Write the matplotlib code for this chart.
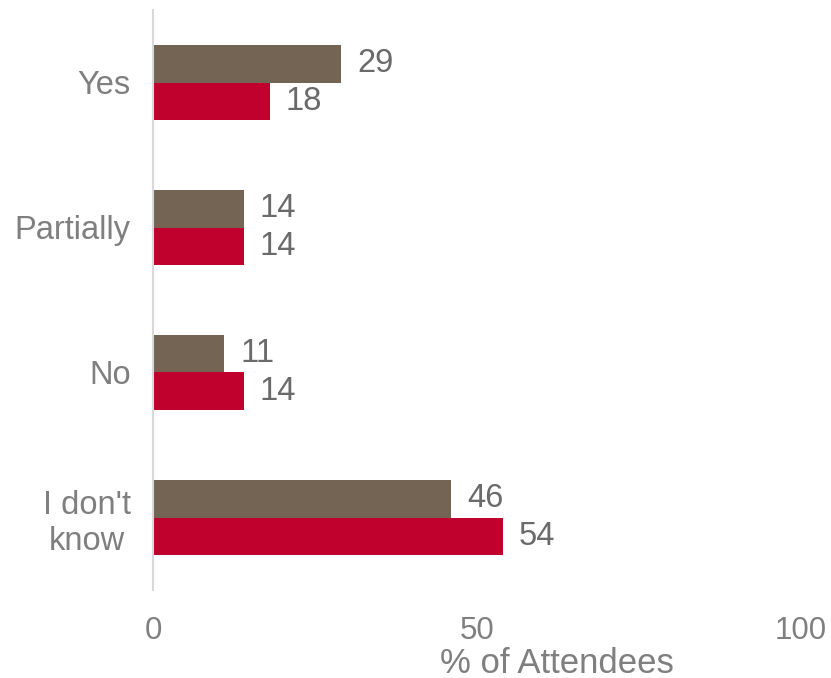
import matplotlib
matplotlib.use("Agg")
import matplotlib.pyplot as plt
import numpy as np

categories = ["Yes", "Partially", "No", "I don't\nknow"]
series_brown = [29, 14, 11, 46]
series_red = [18, 14, 14, 54]
x_ticks = [0, 50, 100]

plt.rcParams['font.family'] = ['Liberation Sans', 'DejaVu Sans']

fig = plt.figure(figsize=(8.31, 6.78), dpi=100)
ax = fig.add_axes([153/831, 1-590/678, 648/831, 580/678])

y = np.arange(len(categories))
h = 0.257
c_brown = "#736453"
c_red = "#C0002D"
b1 = ax.barh(y - h/2, series_brown, height=h, color=c_brown)
b2 = ax.barh(y + h/2, series_red, height=h, color=c_red)

for bars, vals in ((b1, series_brown), (b2, series_red)):
    for rect, v in zip(bars, vals):
        ax.annotate(f"{v}", xy=(rect.get_width(), rect.get_y() + rect.get_height()/2),
                    xytext=(16, 0), textcoords="offset pixels", ha="left", va="center",
                    fontsize=23.5, color="#6a6a6a")

ax.set_xlim(0, 100)
ax.set_ylim(3.5, -0.5)
ax.set_yticks(y)
ax.set_yticklabels(categories, multialignment="center")
ax.set_xticks(x_ticks)
ax.tick_params(axis="both", length=0, labelcolor="#7f7f7f")
ax.tick_params(axis="x", pad=19, labelsize=22.5)
ax.tick_params(axis="y", pad=16, labelsize=23.5)
for s in ["top", "right", "bottom"]:
    ax.spines[s].set_visible(False)
ax.spines["left"].set_color("#d9d9d9")
ax.spines["left"].set_linewidth(1.5)

ax.set_xlabel("% of Attendees", fontsize=25, color="#7f7f7f", va="center")
ax.xaxis.set_label_coords(0.623, -0.126)

fig.savefig("out.png", dpi=100)
